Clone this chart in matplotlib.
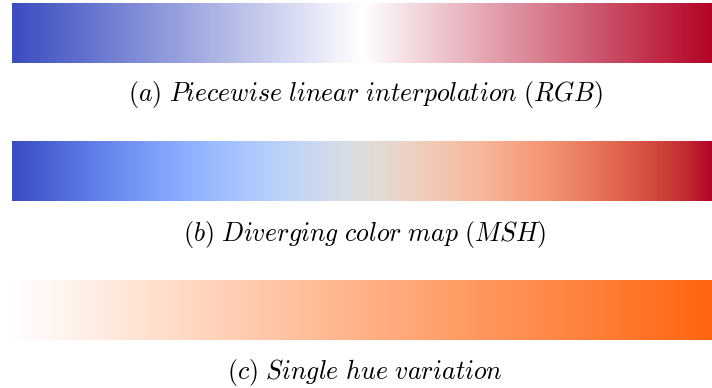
import numpy as np
import matplotlib
matplotlib.use("Agg")
import matplotlib.pyplot as plt
from matplotlib.colors import LinearSegmentedColormap

plt.rcParams['mathtext.fontset'] = 'cm'

captions = [
    r"$\mathit{(a)\ Piecewise\ linear\ interpolation\ (RGB)}$",
    r"$\mathit{(b)\ Diverging\ color\ map\ (MSH)}$",
    r"$\mathit{(c)\ Single\ hue\ variation}$",
]
rgb_colors = ["#3b4cc0", "#ffffff", "#b40426"]
single_hue_colors = ["#ffffff", "#ff6510"]

cmaps = [
    LinearSegmentedColormap.from_list("rgb_lin", rgb_colors),
    plt.get_cmap("coolwarm"),
    LinearSegmentedColormap.from_list("single", single_hue_colors),
]

W, H = 712, 388
fig = plt.figure(figsize=(W / 100, H / 100), dpi=100)
gradient = np.linspace(0, 1, 512)[None, :]

bar_tops = [3, 141, 280]
bar_h = 60
cap_y = [95, 234, 372]
for cmap, top, cy, cap in zip(cmaps, bar_tops, cap_y, captions):
    ax = fig.add_axes([12 / W, 1 - (top + bar_h) / H, (W - 12) / W, bar_h / H])
    ax.imshow(gradient, aspect="auto", cmap=cmap, interpolation="bilinear")
    ax.set_axis_off()
    fig.text(365 / W, 1 - cy / H, cap, ha="center", va="center", fontsize=18.6)

fig.savefig("out.png", dpi=100)
